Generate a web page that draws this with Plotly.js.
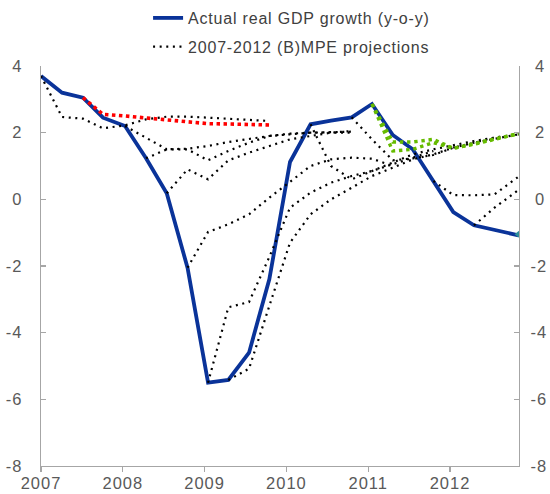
<!DOCTYPE html>
<html>
<head>
<meta charset="utf-8">
<script src="https://cdn.plot.ly/plotly-3.0.1.min.js"></script>
<style>
html,body{margin:0;padding:0;background:#ffffff;}
#chart{width:550px;height:494px;}
.xtick text, .ytick text, .y2tick text { letter-spacing: 1px; }
.legendtext { letter-spacing: 0.8px; }
</style>
</head>
<body>
<div id="chart"></div>
<script>
// ---- data ----
const quarters = [2007.000, 2007.257, 2007.513, 2007.758, 2008.027, 2008.284, 2008.537, 2008.791,
                  2009.042, 2009.290, 2009.543, 2009.791, 2010.044, 2010.295, 2010.545, 2010.798,
                  2011.046, 2011.300, 2011.544, 2011.796, 2012.040, 2012.293, 2012.544, 2012.837];
const actualGrowth = [3.7, 3.2, 3.05, 2.45, 2.2, 1.23, 0.18, -2.05, -5.5, -5.42, -4.6, -2.4,
                      1.12, 2.25, 2.36, 2.46, 2.86, 1.93, 1.5, 0.55, -0.38, -0.78, -0.93, -1.08];

// projections: start quarter index + projected path
const projStarts = [0, 4, 5, 6, 7, 8, 9, 13, 15, 19, 21];
const proj0  = [3.7, 2.47, 2.42, 2.13, 2.22, 2.4, 2.48, 2.48, 2.45, 2.42, 2.38, 2.35];
const proj4  = [2.2, 1.85, 1.5, 1.5, 1.17, 1.45, 1.7, 1.9, 1.97, 2.0, 2.02, 2.03];
const proj5  = [1.23, 1.5, 1.52, 1.6, 1.72, 1.82, 1.9, 1.95, 2.0, 2.0, 2.0];
const proj6  = [0.18, 0.9, 0.6, 1.17, 1.4, 1.6, 1.8, 1.9, 2.0, 2.05];
const proj7  = [-2.05, -0.98, -0.75, -0.45, 0.05, 0.52, 1.0, 1.2, 1.25, 1.22, 1.0];
const proj8  = [-5.5, -3.24, -3.08, -1.73, -0.25, 0.2, 0.5, 0.7, 0.85, 1.05, 1.25, 1.45];
const proj9  = [-5.42, -5.08, -3.2, -1.3, -0.45, 0.0, 0.35, 0.7, 0.95, 1.2, 1.35, 1.55, 1.7, 1.85, 1.95];
const proj13 = [2.25, 1.0, 0.6, 0.85, 1.1, 1.35, 1.5, 1.62, 1.75, 1.85, 1.96];
const proj15 = [2.46, 1.8, 1.17, 1.23, 1.33, 1.55, 1.7, 1.82, 1.95];
const proj19 = [0.55, 0.13, 0.12, 0.15, 0.68];
const proj21 = [-0.78, -0.25, 0.28];
const blackProjections = [proj0, proj4, proj5, proj6, proj7, proj8, proj9, proj13, proj15, proj19, proj21];

const redStart = 2;
const redProj = [3.05, 2.55, 2.5, 2.44, 2.37, 2.31, 2.27, 2.26, 2.24, 2.23];
const greenStart = 16;
const greenProjA = [2.86, 1.45, 1.5, 1.7, 1.53, 1.65, 1.8, 1.97];
const greenProjB = [2.86, 1.72, 1.72, 1.8, 1.53, 1.66, 1.81, 1.97];

const lastPointX = [2012.837];
const lastPointY = [-1.05];

const yearTicks = [2007, 2008, 2009, 2010, 2011, 2012];
const yearLabels = ["2007", "2008", "2009", "2010", "2011", "2012"];
const yTicks = [-8, -6, -4, -2, 0, 2, 4];
const yLabelsLeft = ["-8", "-6", "-4", "-2", "0", "2", "4"];
const yLabelsRight = ["-8", "-6", "-4", "-2", "\u20090", "\u20092", "\u20094"];

const legendActual = "Actual real GDP growth (y-o-y)";
const legendProj = "2007-2012 (B)MPE projections";

// ---- traces ----
const traces = [];
traces.push({
  x: quarters, y: actualGrowth, type: 'scatter', mode: 'lines',
  name: legendActual, legendgroup: 'a', legendrank: 1,
  line: {color: '#0a3399', width: 3.8}, hoverinfo: 'skip'
});
blackProjections.forEach((vals, i) => {
  const s = projStarts[i];
  traces.push({
    x: quarters.slice(s, s + vals.length), y: vals, type: 'scatter', mode: 'lines',
    name: legendProj, legendgroup: 'b', showlegend: i === 0, legendrank: 2,
    line: {color: '#000000', width: 2.2, dash: '2px,4.6px'}, hoverinfo: 'skip'
  });
});
traces.push({
  x: quarters.slice(redStart, redStart + redProj.length), y: redProj, type: 'scatter', mode: 'lines',
  showlegend: false, line: {color: '#ff0000', width: 3.6, dash: '3.5px,3.5px'}, hoverinfo: 'skip'
});
[greenProjA, greenProjB].forEach(vals => {
  traces.push({
    x: quarters.slice(greenStart, greenStart + vals.length), y: vals, type: 'scatter', mode: 'lines',
    showlegend: false, line: {color: '#66bb00', width: 3.4, dash: '3.4px,3.8px'}, hoverinfo: 'skip'
  });
});
traces.push({
  x: lastPointX, y: lastPointY, type: 'scatter', mode: 'markers', showlegend: false,
  marker: {symbol: 'triangle-left', size: 8, color: '#2e8f9a'}, hoverinfo: 'skip'
});
// an invisible trace on the right axis so it is drawn
traces.push({x: [2007], y: [0], yaxis: 'y2', type: 'scatter', mode: 'markers',
             marker: {opacity: 0}, showlegend: false, hoverinfo: 'skip'});

const axisColor = '#a6a6a6';
const layout = {
  width: 550, height: 494,
  margin: {l: 41, r: 31, t: 66, b: 28, pad: 0, autoexpand: false},
  paper_bgcolor: '#ffffff', plot_bgcolor: '#ffffff',
  font: {family: 'Liberation Sans, Arial, sans-serif', size: 16.5, color: '#595959'},
  showlegend: true,
  legend: {
    x: 0.224, xanchor: 'left', y: 1.1625, yanchor: 'top',
    font: {size: 16, color: '#404040'}, bgcolor: 'rgba(0,0,0,0)',
    traceorder: 'grouped', tracegroupgap: 5
  },
  xaxis: {
    range: [2007, 2012.843], tickmode: 'array', tickvals: yearTicks, ticktext: yearLabels,
    ticks: 'outside', ticklen: 5, tickwidth: 1.3, tickcolor: axisColor,
    showline: true, linecolor: axisColor, linewidth: 1.3,
    showgrid: false, zeroline: false, fixedrange: true, ticklabelstandoff: -3
  },
  yaxis: {
    range: [-8, 4], tickmode: 'array', tickvals: yTicks, ticktext: yLabelsLeft,
    ticks: 'inside', ticklen: 5, tickwidth: 1.3, tickcolor: axisColor,
    showline: true, linecolor: axisColor, linewidth: 1.3,
    showgrid: false, zeroline: false, fixedrange: true, ticklabelstandoff: 14
  },
  yaxis2: {
    range: [-8, 4], overlaying: 'y', side: 'right', tickmode: 'array', tickvals: yTicks, ticktext: yLabelsRight,
    ticks: 'inside', ticklen: 5, tickwidth: 1.3, tickcolor: axisColor,
    showline: true, linecolor: axisColor, linewidth: 1.3,
    showgrid: false, zeroline: false, fixedrange: true, ticklabelstandoff: 7
  }
};

Plotly.newPlot('chart', traces, layout, {staticPlot: true, displayModeBar: false});
</script>
</body>
</html>
